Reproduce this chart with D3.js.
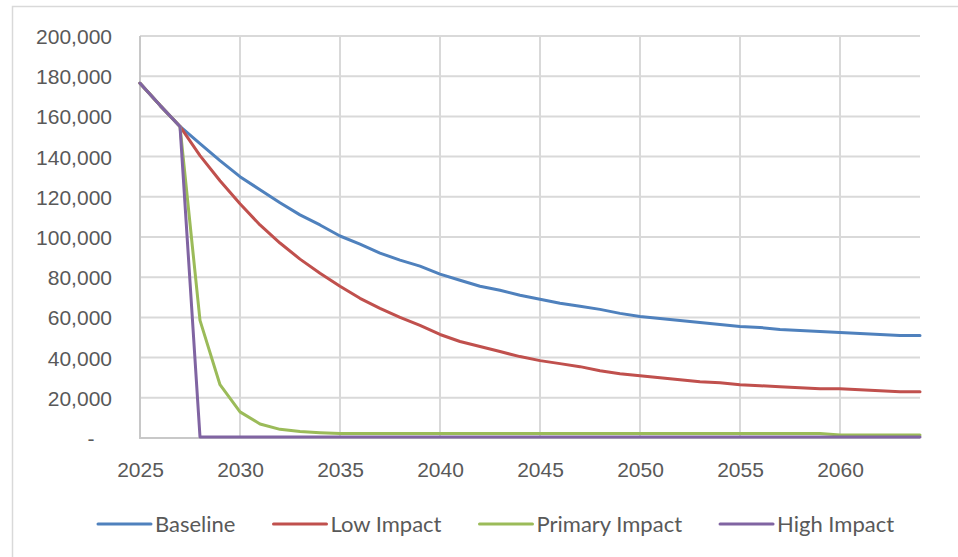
<!DOCTYPE html>
<html>
<head>
<meta charset="utf-8">
<script src="https://cdn.jsdelivr.net/npm/d3@7"></script>
<style>
  html, body { margin: 0; padding: 0; background: #fff; }
  svg { display: block; font-family: Lato, "Open Sans", sans-serif; }
  .tick text { fill: #595959; font-size: 21px; }
  .legend text { fill: #595959; font-size: 22px; }
</style>
</head>
<body>
<svg id="chart" width="958" height="557"></svg>
<script>
// Years on the category axis
const years = d3.range(2025, 2065);

// Projected counts per scenario, one value per year 2025–2064
const baseline = [
  176500, 165500, 155000, 146500, 138000, 130000, 123500, 117000, 111000, 106000,
  100500, 96500, 92000, 88500, 85500, 81500, 78500, 75500, 73500, 71000,
  69000, 67000, 65500, 64000, 62000, 60500, 59500, 58500, 57500, 56500,
  55500, 55000, 54000, 53500, 53000, 52500, 52000, 51500, 51000, 51000
];
const lowImpact = [
  176500, 165500, 155000, 140500, 128000, 116500, 106000, 97000, 89000, 82000,
  75500, 69500, 64500, 60000, 56000, 51500, 48000, 45500, 43000, 40500,
  38500, 37000, 35500, 33500, 32000, 31000, 30000, 29000, 28000, 27500,
  26500, 26000, 25500, 25000, 24500, 24500, 24000, 23500, 23000, 23000
];
const primaryImpact = [
  176500, 165500, 155000, 58500, 26500, 13000, 7000, 4300, 3200, 2600,
  2200, 2200, 2200, 2200, 2200, 2200, 2200, 2200, 2200, 2200,
  2200, 2200, 2200, 2200, 2200, 2200, 2200, 2200, 2200, 2200,
  2200, 2200, 2200, 2200, 2200, 1500, 1500, 1500, 1500, 1500
];
const highImpact = [
  176500, 165500, 155000, 500, 500, 500, 500, 500, 500, 500,
  500, 500, 500, 500, 500, 500, 500, 500, 500, 500,
  500, 500, 500, 500, 500, 500, 500, 500, 500, 500,
  500, 500, 500, 500, 500, 500, 500, 500, 500, 500
];

const seriesNames = ["Baseline", "Low Impact", "Primary Impact", "High Impact"];
const seriesColors = ["#4F81BD", "#C0504D", "#9BBB59", "#8064A2"];

const yTicks = [0, 20000, 40000, 60000, 80000, 100000, 120000, 140000, 160000, 180000, 200000];
const yTickLabels = ["-\u00a0\u00a0\u00a0", "20,000", "40,000", "60,000", "80,000", "100,000",
                     "120,000", "140,000", "160,000", "180,000", "200,000"];
const xTicks = [2025, 2030, 2035, 2040, 2045, 2050, 2055, 2060];

const seriesValues = [baseline, lowImpact, primaryImpact, highImpact];
const series = seriesNames.map((name, i) => ({
  name,
  color: seriesColors[i],
  points: years.map((yr, j) => ({ year: yr, value: seriesValues[i][j] }))
}));

const svg = d3.select("#chart");
const plot = { left: 140, right: 920, top: 36, bottom: 438 };

const x = d3.scaleLinear().domain([2025, 2064]).range([plot.left, plot.right]);
const y = d3.scaleLinear().domain([0, 200000]).range([plot.bottom, plot.top]);

// Chart-area frame (only top and left edges fall inside the canvas)
svg.append("path")
  .attr("d", "M12.5,557 L12.5,6.5 L958,6.5")
  .attr("fill", "none")
  .attr("stroke", "#d9d9d9")
  .attr("stroke-width", 1.5);

// Horizontal gridlines
svg.append("g")
  .selectAll("line")
  .data(yTicks.filter(v => v > 0))
  .join("line")
  .attr("x1", plot.left).attr("x2", plot.right)
  .attr("y1", d => y(d)).attr("y2", d => y(d))
  .attr("stroke", "#d9d9d9").attr("stroke-width", 2);

// Vertical gridlines every five years
svg.append("g")
  .selectAll("line")
  .data(xTicks.filter(v => v > 2025))
  .join("line")
  .attr("x1", d => x(d)).attr("x2", d => x(d))
  .attr("y1", plot.top).attr("y2", plot.bottom)
  .attr("stroke", "#d9d9d9").attr("stroke-width", 2);

// Axis lines
svg.append("line")
  .attr("x1", plot.left).attr("x2", plot.left)
  .attr("y1", plot.top).attr("y2", plot.bottom)
  .attr("stroke", "#c8c8c8").attr("stroke-width", 2);
svg.append("line")
  .attr("x1", plot.left - 1).attr("x2", plot.right)
  .attr("y1", plot.bottom).attr("y2", plot.bottom)
  .attr("stroke", "#c8c8c8").attr("stroke-width", 2);

// Y axis labels
const yAxis = d3.axisLeft(y)
  .tickValues(yTicks)
  .tickFormat((d, i) => yTickLabels[i])
  .tickSize(0)
  .tickPadding(plot.left - 112);
svg.append("g")
  .attr("transform", `translate(${plot.left},0)`)
  .call(yAxis)
  .call(g => g.select(".domain").remove())
  .selectAll("text").attr("dy", "0.36em");

// X axis labels
const xAxis = d3.axisBottom(x)
  .tickValues(xTicks)
  .tickFormat(d3.format("d"))
  .tickSize(0)
  .tickPadding(24);
svg.append("g")
  .attr("transform", `translate(0,${plot.bottom})`)
  .call(xAxis)
  .call(g => g.select(".domain").remove());

// Series lines
const line = d3.line()
  .x(d => x(d.year))
  .y(d => y(d.value));

svg.append("g")
  .selectAll("path")
  .data(series)
  .join("path")
  .attr("d", d => line(d.points))
  .attr("fill", "none")
  .attr("stroke", d => d.color)
  .attr("stroke-width", 3)
  .attr("stroke-linejoin", "round")
  .attr("stroke-linecap", "round");

// Legend along the bottom
const legend = svg.append("g").attr("class", "legend");
let cursor = 98;
const legendY = 524;
series.forEach(s => {
  legend.append("line")
    .attr("x1", cursor).attr("x2", cursor + 53)
    .attr("y1", legendY).attr("y2", legendY)
    .attr("stroke", s.color).attr("stroke-width", 3)
    .attr("stroke-linecap", "round");
  const t = legend.append("text")
    .attr("x", cursor + 57)
    .attr("y", legendY)
    .attr("dy", "0.35em")
    .text(s.name);
  const w = t.node().getComputedTextLength();
  cursor = cursor + 57 + w + 38;
});
</script>
</body>
</html>
